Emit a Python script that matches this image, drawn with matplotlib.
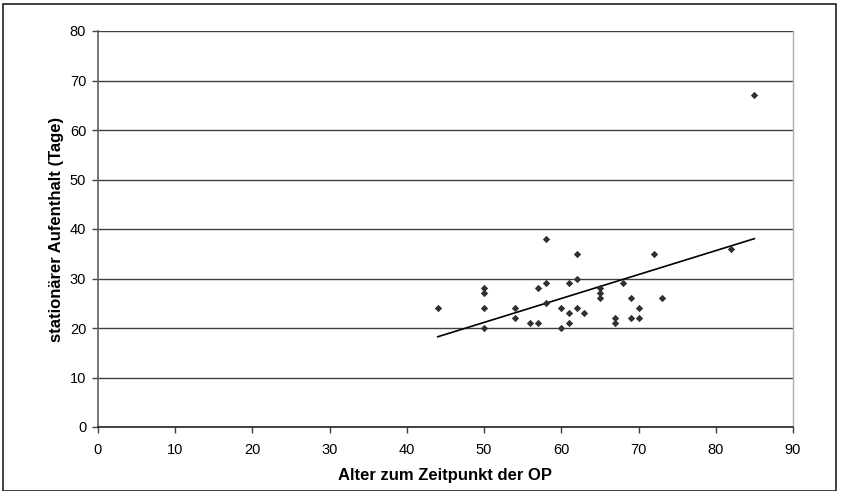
import numpy as np
import matplotlib
matplotlib.use('Agg')
import matplotlib.pyplot as plt
from matplotlib.patches import Rectangle

plt.rcParams['font.family'] = ['Liberation Sans', 'DejaVu Sans']

# Alter zum Zeitpunkt der OP / stationaerer Aufenthalt (Tage)
alter = [44, 50, 50, 50, 50, 54, 54, 56, 57, 57, 58, 58, 58, 60, 60,
         61, 61, 61, 62, 62, 62, 63, 65, 65, 65, 67, 67, 68, 69, 69,
         70, 70, 72, 73, 82, 85]
tage = [24, 28, 27, 24, 20, 24, 22, 21, 21, 28, 29, 38, 25, 24, 20,
        29, 23, 21, 35, 30, 24, 23, 28, 27, 26, 22, 21, 29, 26, 22,
        24, 22, 35, 26, 36, 67]

x_ticks = list(range(0, 91, 10))
y_ticks = list(range(0, 81, 10))

fig = plt.figure(figsize=(8.45, 4.91), dpi=100)
ax = fig.add_axes([98 / 845, 1 - 427 / 491, 695 / 845, 396 / 491])

ax.scatter(alter, tage, marker='D', s=14, color='#303030', zorder=3, linewidths=0)

# linear trend line over the range of the data
k, d = np.polyfit(alter, tage, 1)
xs = np.array([min(alter), max(alter)])
ax.plot(xs, k * xs + d, color='black', lw=1.2, zorder=2)

ax.set_xlim(0, 90)
ax.set_ylim(0, 80)
ax.set_xticks(x_ticks)
ax.set_yticks(y_ticks)
for y in y_ticks[1:]:
    ax.axhline(y, color='#404040', lw=1.0, zorder=1)

ax.spines['top'].set_visible(False)
ax.spines['right'].set_color('#b0b0b0')
ax.spines['right'].set_linewidth(1.0)
ax.spines['left'].set_color('#606060')
ax.spines['left'].set_linewidth(1.2)
ax.spines['bottom'].set_color('#202020')
ax.spines['bottom'].set_linewidth(1.2)

ax.tick_params(axis='both', labelsize=10.5, direction='out', length=4.5, width=1,
               color='#404040')
ax.tick_params(axis='x', pad=7)
ax.tick_params(axis='y', pad=4)
ax.set_xlabel('Alter zum Zeitpunkt der OP', fontsize=12, fontweight='bold', labelpad=8)
ax.set_ylabel('stationärer Aufenthalt (Tage)', fontsize=12, fontweight='bold', labelpad=4)

# outer chart frame
fig.patches.append(Rectangle((3 / 845, 0.5 / 491), 833 / 845, 487 / 491,
                             transform=fig.transFigure, fill=False,
                             edgecolor='#202020', lw=1.2))

plt.savefig('out.png', dpi=100)
